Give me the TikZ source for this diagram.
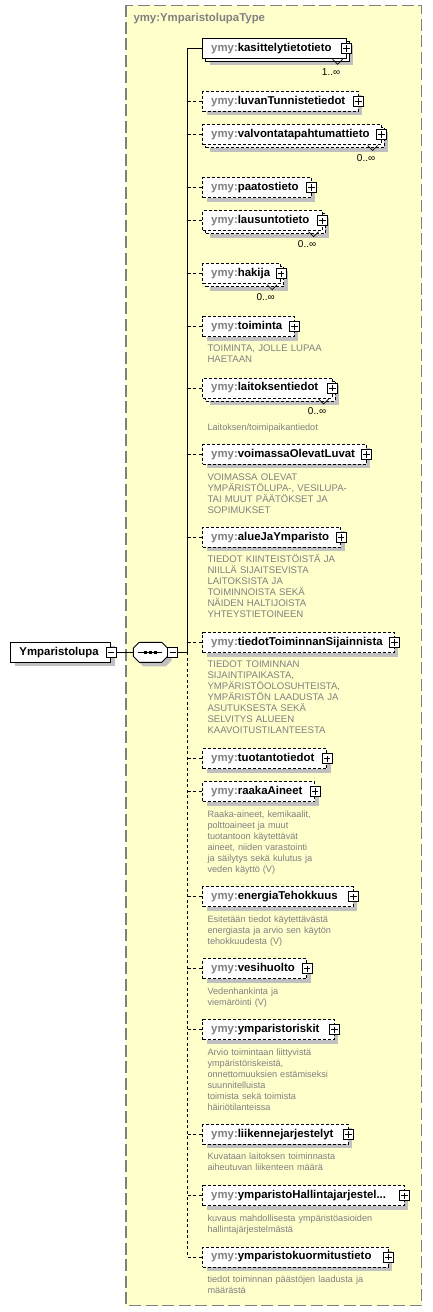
\documentclass[tikz,border=0pt]{standalone}
\usepackage{fontspec}
\setmainfont{Liberation Sans}
\usetikzlibrary{shadows}
\definecolor{bgyellow}{RGB}{255,255,204}
\definecolor{framegray}{RGB}{128,128,128}
\definecolor{shadowgray}{RGB}{192,192,192}
\definecolor{ymygray}{RGB}{128,128,128}
\definecolor{annogray}{RGB}{128,128,128}
\tikzset{
  boxshadow/.style={general shadow={fill=shadowgray, shadow xshift=4pt, shadow yshift=-4pt}},
  elemsolid/.style={draw=black, line width=0.9pt, fill=white, minimum height=20pt, inner sep=0pt, anchor=west},
  elemdash/.style={elemsolid, dash pattern=on 3pt off 2pt},
  labeltext/.style={inner sep=0pt, anchor=west, font=\fontsize{11.4}{13}\selectfont\bfseries, text=black},
  multtext/.style={inner sep=0pt, anchor=east, font=\fontsize{10}{12}\selectfont, text=black},
  annouc/.style={inner sep=0pt, anchor=base west, text width=215pt, align=left, font=\fontsize{9.6}{11}\selectfont, text=annogray},
  annolc/.style={inner sep=0pt, anchor=base west, text width=215pt, align=left, font=\fontsize{9.15}{11}\selectfont, text=annogray},
  conn/.style={draw=black, line width=0.9pt},
  dashconn/.style={conn, dash pattern=on 3pt off 2.5pt},
  iconbox/.style={draw=black, solid, fill=white, line width=0.8pt, minimum size=10pt, inner sep=0pt},
  plusicon/.style={iconbox, path picture={\draw[line width=0.8pt]
      ([xshift=-3.2pt]path picture bounding box.center) -- ([xshift=3.2pt]path picture bounding box.center)
      ([yshift=-3.2pt]path picture bounding box.center) -- ([yshift=3.2pt]path picture bounding box.center);}},
  minusicon/.style={iconbox, path picture={\draw[line width=0.8pt]
      ([xshift=-3.2pt]path picture bounding box.center) -- ([xshift=3.2pt]path picture bounding box.center);}},
}
% single element: #1 id, #2 centre y, #3 right edge, #4 style, #5 name
\newcommand\xel[5]{%
  \coordinate (j#1) at (187.7,#2);
  \node[#4, boxshadow, minimum width={(#3-202.3)*1pt}] (e#1) at (202.3,#2) {};
  \node[labeltext] (t#1) at ([xshift=8.7pt]e#1.west) {\textcolor{ymygray}{ymy:}#5};
  \node[plusicon] (p#1) at (e#1.east) {};
}
% repeated element: extra #6 multiplicity
\newcommand\xelm[6]{%
  \coordinate (j#1) at (187.7,#2);
  \node[#4, boxshadow, minimum width={(#3-202.3)*1pt}] (b#1) at (205.3,#2+3) {};
  \node[#4, minimum width={(#3-202.3)*1pt}] (e#1) at (202.3,#2) {};
  \node[labeltext] (t#1) at ([xshift=8.7pt]e#1.west) {\textcolor{ymygray}{ymy:}#5};
  \node[plusicon] (p#1) at (e#1.east) {};
  \node[multtext] (m#1) at ([xshift=-6.2pt,yshift=-23.3pt]e#1.east) {#6};
  \draw[line width=0.7pt] ([xshift=-14pt,yshift=-11pt]e#1.east) -- ([xshift=-9pt,yshift=-16pt]e#1.east) -- ([xshift=-4pt,yshift=-11pt]e#1.east);
}
\begin{document}
\begin{tikzpicture}[x=1pt,y=-1pt]
\useasboundingbox (0,0) rectangle (432,1312);
\fill[white] (0,0) rectangle (432,1312);
% complex type frame
\draw[framegray, line width=1.5pt, dash pattern=on 12pt off 4.5pt, fill=bgyellow] (126,5.3) rectangle (421.5,1305.7);
\node[inner sep=0pt, anchor=west, font=\fontsize{11.4}{13}\selectfont\bfseries, text=ymygray] (title) at (133.3,19) {ymy:YmparistolupaType};

% spine
\coordinate (jm) at (187.7,652.3);
\coordinate (jtop) at (187.7,48.3);
\coordinate (jbot) at (187.7,1257);
\draw[conn] (jtop) -- (jm);
\draw[dashconn] (jm) -- (jbot);

% elements
\xelm{1}{48.3}{345.7}{elemsolid}{kasittelytietotieto}{1..∞}
\xel{2}{101.3}{357.7}{elemdash}{luvanTunnistetiedot}
\xelm{3}{134.5}{380.7}{elemdash}{valvontatapahtumattieto}{0..∞}
\xel{4}{187.5}{310.7}{elemdash}{paatostieto}
\xelm{5}{220.7}{321.7}{elemdash}{lausuntotieto}{0..∞}
\xelm{6}{273.7}{280.3}{elemdash}{hakija}{0..∞}
\xel{7}{326.7}{293.7}{elemdash}{toiminta}
\xelm{8}{388}{331.7}{elemdash}{laitoksentiedot}{0..∞}
\xel{9}{454.3}{365.7}{elemdash}{voimassaOlevatLuvat}
\xel{10}{537.3}{340.3}{elemdash}{alueJaYmparisto}
\xel{11}{642.5}{393.7}{elemdash}{tiedotToiminnanSijainnista}
\xel{12}{758.7}{326.3}{elemdash}{tuotantotiedot}
\xel{13}{791.5}{314.3}{elemdash}{raakaAineet}
\xel{14}{896.7}{352.7}{elemdash}{energiaTehokkuus}
\xel{15}{968.7}{306.3}{elemdash}{vesihuolto}
\xel{16}{1029.7}{333.7}{elemdash}{ymparistoriskit}
\xel{17}{1134.3}{347.7}{elemdash}{liikennejarjestelyt}
\xel{18}{1195.7}{403.7}{elemdash}{ymparistoHallintajarjestel...}
\xel{19}{1257}{387.7}{elemdash}{ymparistokuormitustieto}

% branches
\draw[conn] (j1) -- (e1.west);
\foreach \i in {2,...,19} { \draw[dashconn] (j\i) -- (e\i.west); }

% annotations
\node[annouc] (a7) at (207.3,351.6) {TOIMINTA, JOLLE LUPAA\\HAETAAN};
\node[annolc] (a8) at (207.3,430) {Laitoksen/toimipaikantiedot};
\node[annouc] (a9) at (207.3,480) {VOIMASSA OLEVAT\\YMPÄRISTÖLUPA-, VESILUPA-\\TAI MUUT PÄÄTÖKSET JA\\SOPIMUKSET};
\node[annouc] (a10) at (207.3,562.6) {TIEDOT KIINTEISTÖISTÄ JA\\NIILLÄ SIJAITSEVISTA\\LAITOKSISTA JA\\TOIMINNOISTA SEKÄ\\NÄIDEN HALTIJOISTA\\YHTEYSTIETOINEEN};
\node[annouc] (a11) at (207.3,667.3) {TIEDOT TOIMINNAN\\SIJAINTIPAIKASTA,\\YMPÄRISTÖOLOSUHTEISTA,\\YMPÄRISTÖN LAADUSTA JA\\ASUTUKSESTA SEKÄ\\SELVITYS ALUEEN\\KAAVOITUSTILANTEESTA};
\node[annolc] (a13) at (207.3,817.3) {Raaka-aineet, kemikaalit,\\polttoaineet ja muut\\tuotantoon käytettävät\\aineet, niiden varastointi\\ja säilytys sekä kulutus ja\\veden käyttö (V)};
\node[annolc] (a14) at (207.3,922) {Esitetään tiedot käytettävästä\\energiasta ja arvio sen käytön\\tehokkuudesta (V)};
\node[annolc] (a15) at (207.3,994) {Vedenhankinta ja\\viemäröinti (V)};
\node[annolc] (a16) at (207.3,1055) {Arvio toimintaan liittyvistä\\ympäristöriskeistä,\\onnettomuuksien estämiseksi\\suunnitelluista\\toimista sekä toimista\\häiriötilanteissa};
\node[annolc] (a17) at (207.3,1159.6) {Kuvataan laitoksen toiminnasta\\aiheutuvan liikenteen määrä};
\node[annolc] (a18) at (207.3,1221.3) {kuvaus mahdollisesta ympäristöasioiden\\hallintajärjestelmästä};
\node[annolc] (a19) at (207.3,1282) {tiedot toiminnan päästöjen laadusta ja\\määrästä};

% root element
\node[elemsolid, boxshadow, minimum width=100pt] (root) at (10.3,652.3) {};
\node[labeltext] (troot) at ([xshift=9pt]root.west) {Ymparistolupa};
\node[minusicon] (rm) at (root.east) {};

% sequence compositor
\fill[shadowgray] (143.3,646.3) -- (165.7,646.3) -- (171.7,652.3) -- (171.7,660.3) -- (165.7,666.3) -- (143.3,666.3) -- (137.3,660.3) -- (137.3,652.3) -- cycle;
\draw[line width=0.9pt, fill=white] (139.3,642.3) -- (161.7,642.3) -- (167.7,648.3) -- (167.7,656.3) -- (161.7,662.3) -- (139.3,662.3) -- (133.3,656.3) -- (133.3,648.3) -- cycle;
\node[inner sep=0pt, minimum width=34.4pt, minimum height=20pt] (seq) at (150.5,652.3) {};
\draw[line width=0.8pt] (138.3,652.3) -- (162.3,652.3);
\foreach \dx in {145.3,150.5,155.7} { \fill (\dx-1.6,650.7) rectangle (\dx+1.6,653.9); }
\node[minusicon] (sm) at (172.7,652.3) {};

\draw[conn] (rm.east) -- (seq.west);
\draw[conn] (sm.east) -- (jm);
\end{tikzpicture}
\end{document}
